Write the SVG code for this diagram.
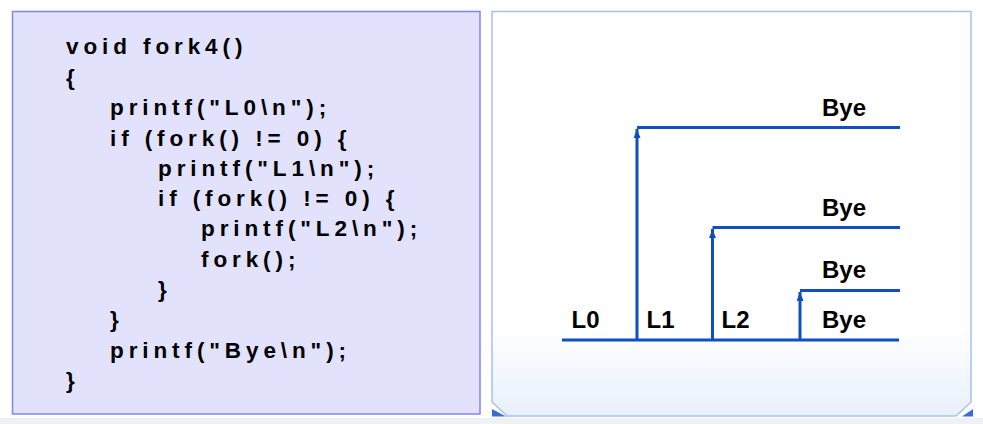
<svg xmlns="http://www.w3.org/2000/svg" width="983" height="424" viewBox="0 0 983 424">
<defs>
<linearGradient id="rg" x1="0" y1="0" x2="0" y2="1">
<stop offset="0" stop-color="#FFFFFF"/>
<stop offset="0.78" stop-color="#FFFFFF"/>
<stop offset="1" stop-color="#E8F0FB"/>
</linearGradient>
<marker id="ah" viewBox="0 0 9 7" refX="9" refY="3.5" markerWidth="9" markerHeight="7" markerUnits="userSpaceOnUse" orient="auto">
<path d="M0,0 L9,3.5 L0,7 Z" fill="#0F4FBF"/>
</marker>
<style>
.code{font-family:"Liberation Sans",Arial,sans-serif;font-weight:bold;font-size:22.5px;letter-spacing:4.9px;fill:#000}
.lbl{font-family:"Liberation Sans",Arial,sans-serif;font-weight:bold;font-size:24px;fill:#000}
.ln{stroke:#0F4FBF;stroke-width:3;fill:none}
</style>
</defs>
<rect x="0" y="0" width="983" height="424" fill="#FFFFFF"/>
<rect x="0" y="418" width="983" height="6" fill="#EFF1F5"/>
<g id="code-panel">
<rect x="12.5" y="11.5" width="467.5" height="402.5" fill="#E2E2FD" stroke="#8282FA" stroke-width="1.5"/>
<text class="code" x="66" y="54">void fork4()</text>
<text class="code" x="66" y="84.5">{</text>
<text class="code" x="110" y="115">printf("L0\n");</text>
<text class="code" x="110" y="145.5">if (fork() != 0) {</text>
<text class="code" x="158" y="175.5">printf("L1\n");</text>
<text class="code" x="158" y="206">if (fork() != 0) {</text>
<text class="code" x="201" y="236">printf("L2\n");</text>
<text class="code" x="201" y="266.5">fork();</text>
<text class="code" x="158" y="297">}</text>
<text class="code" x="110" y="327">}</text>
<text class="code" x="110" y="357.5">printf("Bye\n");</text>
<text class="code" x="66" y="388">}</text>
</g>
<g id="diagram-panel">
<path d="M492,11.5 H971 V402 L956,416 H507 L492,402 Z" fill="url(#rg)" stroke="#A6C2EC" stroke-width="1.5"/>
<path d="M492,409 L506,416.5 H492 Z" fill="#3A6FD0"/>
<path d="M973,409 V416.5 H962 Z" fill="#3A6FD0"/>
</g>
<g id="connectors">
<line class="ln" x1="562" y1="340" x2="899" y2="340"/>
<line class="ln" x1="637" y1="340" x2="637" y2="129" marker-end="url(#ah)"/>
<line class="ln" x1="637" y1="127.5" x2="900" y2="127.5"/>
<line class="ln" x1="712.5" y1="340" x2="712.5" y2="229" marker-end="url(#ah)"/>
<line class="ln" x1="712.5" y1="227.5" x2="900" y2="227.5"/>
<line class="ln" x1="800" y1="340" x2="800" y2="292" marker-end="url(#ah)"/>
<line class="ln" x1="800" y1="290.5" x2="900" y2="290.5"/>
</g>
<g id="node-L0"><text class="lbl" x="571.5" y="328">L0</text></g>
<g id="node-L1"><text class="lbl" x="646.5" y="328">L1</text></g>
<g id="node-L2"><text class="lbl" x="721.5" y="328">L2</text></g>
<g id="node-bye1"><text class="lbl" x="822" y="116">Bye</text></g>
<g id="node-bye2"><text class="lbl" x="822" y="216">Bye</text></g>
<g id="node-bye3"><text class="lbl" x="822" y="278">Bye</text></g>
<g id="node-bye4"><text class="lbl" x="822" y="328">Bye</text></g>
</svg>
